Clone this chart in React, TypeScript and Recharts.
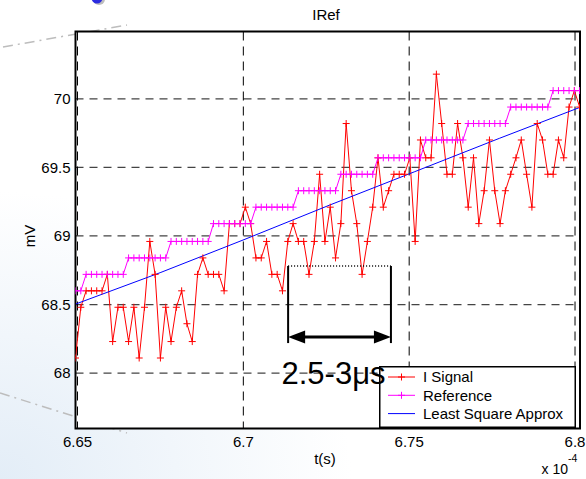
import React from 'react';
import { LineChart, Line, XAxis, YAxis, CartesianGrid, ReferenceArea, ReferenceLine, Legend } from 'recharts';

// Sampling grid (x 1e-4 s)
const T0 = 6.6494;
const DT = 0.0016;

// I Signal samples (mV)
const iSignal = [
  68.11, 68.48, 68.60, 68.60, 68.60, 68.60, 68.72, 68.23, 68.48, 68.48,
  68.23, 68.48, 68.11, 68.48, 68.96, 68.72, 68.11, 68.48, 68.23, 68.48,
  68.60, 68.36, 68.23, 68.72, 68.84, 68.72, 68.72, 68.72, 68.60, 69.09,
  69.09, 69.09, 69.21, 69.09, 68.84, 68.84, 68.96, 68.72, 68.72, 68.60,
  68.96, 69.09, 68.96, 68.96, 68.72, 68.96, 69.45, 68.96, 69.21, 68.84,
  69.09, 69.82, 69.33, 69.09, 68.72, 68.96, 69.21, 69.57, 69.21, 69.33,
  69.45, 69.45, 69.45, 69.57, 68.96, 69.70, 69.57, 69.57, 70.18, 69.82,
  69.45, 69.45, 69.82, 69.57, 69.21, 69.57, 69.09, 69.33, 69.70, 69.33,
  69.09, 69.33, 69.45, 69.57, 69.70, 69.45, 69.21, 69.82, 69.70, 69.45,
  69.45, 69.70, 69.57, 69.94, 70.06, 69.94,
];

// Reference staircase (mV)
const reference = [
  68.60, 68.60, 68.72, 68.72, 68.72, 68.72, 68.72, 68.72, 68.72, 68.72,
  68.84, 68.84, 68.84, 68.84, 68.84, 68.84, 68.84, 68.84, 68.96, 68.96,
  68.96, 68.96, 68.96, 68.96, 68.96, 68.96, 69.09, 69.09, 69.09, 69.09,
  69.09, 69.09, 69.09, 69.09, 69.21, 69.21, 69.21, 69.21, 69.21, 69.21,
  69.21, 69.21, 69.33, 69.33, 69.33, 69.33, 69.33, 69.33, 69.33, 69.33,
  69.45, 69.45, 69.45, 69.45, 69.45, 69.45, 69.45, 69.57, 69.57, 69.57,
  69.57, 69.57, 69.57, 69.57, 69.57, 69.57, 69.70, 69.70, 69.70, 69.70,
  69.70, 69.70, 69.70, 69.70, 69.82, 69.82, 69.82, 69.82, 69.82, 69.82,
  69.82, 69.82, 69.94, 69.94, 69.94, 69.94, 69.94, 69.94, 69.94, 69.94,
  70.06, 70.06, 70.06, 70.06, 70.06, 70.06,
];

// Least square approximation (read points)
const lsTimes = [6.6495, 6.6749, 6.7005, 6.7261, 6.7517, 6.7773, 6.8013];
const lsValues = [68.504, 68.732, 68.976, 69.226, 69.469, 69.713, 69.936];

const xTicks = [6.65, 6.7, 6.75, 6.8];
const yTicks = [68, 68.5, 69, 69.5, 70];
const xDomain: [number, number] = [6.6494, 6.8015];
const yDomain: [number, number] = [67.596, 70.491];

// annotation (data coordinates)
const spanStart = 6.7135;
const spanEnd = 6.7445;
const spanTop = 68.781;
const spanBottom = 68.219;
const arrowLevel = 68.263;

const times = iSignal.map((_, i) => +(T0 + i * DT).toFixed(5));
const signalData = times.map((t, i) => ({ t, sig: iSignal[i], ref: reference[i] }));
const lsData = lsTimes.map((t, i) => ({ t, ls: lsValues[i] }));

const FONT = '"Liberation Sans", Arial, Helvetica, sans-serif';

const plusDot = (color: string, name: string) => (props: any) => {
  const { cx, cy, index } = props;
  if (cx == null || cy == null || isNaN(cx) || isNaN(cy)) return <g key={`${name}-n${index}`} />;
  const s = 3.5;
  return (
    <path
      key={`${name}-${index}`}
      d={`M${cx - s},${cy}H${cx + s}M${cx},${cy - s}V${cy + s}`}
      stroke={color}
      strokeWidth={1}
      fill="none"
    />
  );
};

const arrowShape = (p: any) => {
  const { x1, y1, x2, y2 } = p;
  const L = 17;
  const H = 6.5;
  return (
    <g>
      <line x1={x1 + L - 2} y1={y1} x2={x2 - L + 2} y2={y2} stroke="#000" strokeWidth={3} />
      <polygon points={`${x1},${y1} ${x1 + L},${y1 - H} ${x1 + L},${y1 + H}`} fill="#000" />
      <polygon points={`${x2},${y2} ${x2 - L},${y2 - H} ${x2 - L},${y2 + H}`} fill="#000" />
    </g>
  );
};

const legendItems = [
  { label: 'I Signal', color: '#ff0000', marker: true },
  { label: 'Reference', color: '#ff00ff', marker: true },
  { label: 'Least Square Approx', color: '#0000ff', marker: false },
];

const renderLegend = () => (
  <svg width={197} height={62} style={{ display: 'block' }}>
    <rect x={0.75} y={0.75} width={195.5} height={60.5} fill="#fff" stroke="#000" strokeWidth={1.5} />
    {legendItems.map((it, k) => {
      const y = 11 + k * 18.3;
      return (
        <g key={it.label}>
          <line x1={9} x2={36} y1={y} y2={y} stroke={it.color} strokeWidth={1} />
          {it.marker && (
            <path d={`M${22.5 - 3.5},${y}H${22.5 + 3.5}M22.5,${y - 3.5}V${y + 3.5}`} stroke={it.color} strokeWidth={1} />
          )}
          <text x={44} y={y} dy="0.35em" fontSize={15} fontFamily={FONT} fill="#000">
            {it.label}
          </text>
        </g>
      );
    })}
  </svg>
);

export default function App() {
  return (
    <div style={{ position: 'absolute', left: 0, top: 0, width: 586, height: 479, overflow: 'hidden', background: '#fff' }}>
      <svg width={586} height={479} style={{ position: 'absolute', left: 0, top: 0 }}>
        <defs>
          <radialGradient id="bgGrad" cx="0" cy="1" r="0.6">
            <stop offset="0%" stopColor="#e3edf7" />
            <stop offset="100%" stopColor="#ffffff" />
          </radialGradient>
        </defs>
        <rect x={0} y={0} width={586} height={479} fill="url(#bgGrad)" />
        <line x1={3} y1={47} x2={127} y2={25} stroke="#bdbdbd" strokeWidth={1.5} strokeDasharray="10 5 2 5" />
        <line x1={0} y1={393} x2={127} y2={433} stroke="#bdbdbd" strokeWidth={1.5} strokeDasharray="10 5 2 5" />
        <circle cx={99} cy={-1} r={6} fill="#bdbdbd" />
        <circle cx={97} cy={-2} r={5.5} fill="#2b2be0" />
      </svg>
      <div style={{ position: 'absolute', left: 0, top: 0 }}>
        <LineChart width={586} height={479} data={signalData} margin={{ top: 31.5, right: 6, bottom: 20, left: 0 }}>
          <CartesianGrid horizontal={true} vertical={false} stroke="#444" strokeDasharray="8 6" strokeWidth={1.2} fill="#fff" fillOpacity={1} />
          <CartesianGrid horizontal={false} vertical={true} stroke="#000" strokeDasharray="9 6" strokeWidth={1} />
          <XAxis
            dataKey="t"
            type="number"
            domain={xDomain}
            ticks={xTicks}
            allowDataOverflow
            interval={0}
            height={30.5}
            tickLine={false}
            axisLine={false}
            tickSize={6}
            tickMargin={2}
            tick={{ fill: '#000', fontSize: 15, fontFamily: FONT }}
          />
          <YAxis
            type="number"
            domain={yDomain}
            ticks={yTicks}
            allowDataOverflow
            interval={0}
            width={75.5}
            tickLine={false}
            axisLine={false}
            tickSize={5}
            tickMargin={0}
            tick={{ fill: '#000', fontSize: 15, fontFamily: FONT }}
          />
          <Line
            dataKey="sig"
            name="I Signal"
            type="linear"
            stroke="#ff0000"
            strokeWidth={1}
            dot={plusDot('#ff0000', 'sig')}
            activeDot={false}
            isAnimationActive={false}
          />
          <Line
            dataKey="ref"
            name="Reference"
            type="linear"
            stroke="#ff00ff"
            strokeWidth={1}
            dot={plusDot('#ff00ff', 'ref')}
            activeDot={false}
            isAnimationActive={false}
          />
          <Line
            data={lsData}
            dataKey="ls"
            name="Least Square Approx"
            type="linear"
            stroke="#0000ff"
            strokeWidth={1}
            dot={false}
            activeDot={false}
            isAnimationActive={false}
          />
          <ReferenceLine
            segment={[{ x: spanStart, y: spanTop }, { x: spanEnd, y: spanTop }]}
            stroke="#000"
            strokeWidth={1.5}
            strokeDasharray="1 2"
          />
          <ReferenceLine
            segment={[{ x: spanStart, y: spanTop }, { x: spanStart, y: spanBottom }]}
            stroke="#000"
            strokeWidth={2}
          />
          <ReferenceLine
            segment={[{ x: spanEnd, y: spanTop }, { x: spanEnd, y: spanBottom }]}
            stroke="#000"
            strokeWidth={2}
          />
          <ReferenceLine
            segment={[{ x: spanStart, y: arrowLevel }, { x: spanEnd, y: arrowLevel }]}
            shape={arrowShape}
          />
          <ReferenceArea
            x1={xDomain[0]}
            x2={xDomain[1]}
            y1={yDomain[0]}
            y2={yDomain[1]}
            fill="none"
            stroke="#000"
            strokeWidth={2}
            ifOverflow="visible"
          />
          <Legend
            layout="vertical"
            align="center"
            verticalAlign="middle"
            content={renderLegend}
            wrapperStyle={{ left: 379, top: 366, width: 197, height: 62 }}
          />
        </LineChart>
      </div>
      <svg width={586} height={479} style={{ position: 'absolute', left: 0, top: 0, pointerEvents: 'none' }}>
        <text x={326} y={20} textAnchor="middle" fontSize={15} fontFamily={FONT} fill="#000">IRef</text>
        <text x={325} y={463.5} textAnchor="middle" fontSize={15} fontFamily={FONT} fill="#000">t(s)</text>
        <text x={35} y={236} textAnchor="middle" fontSize={15} fontFamily={FONT} fill="#000" transform="rotate(-90 35 236)">mV</text>
        <text x={541.5} y={473.5} fontSize={14} fontFamily={FONT} fill="#000">x 10</text>
        <text x={568} y={462} fontSize={10.5} fontFamily={FONT} fill="#000">-4</text>
        <text x={281.5} y={383.5} fontSize={31} fontFamily={FONT} fill="#000">2.5-3μs</text>
      </svg>
    </div>
  );
}
